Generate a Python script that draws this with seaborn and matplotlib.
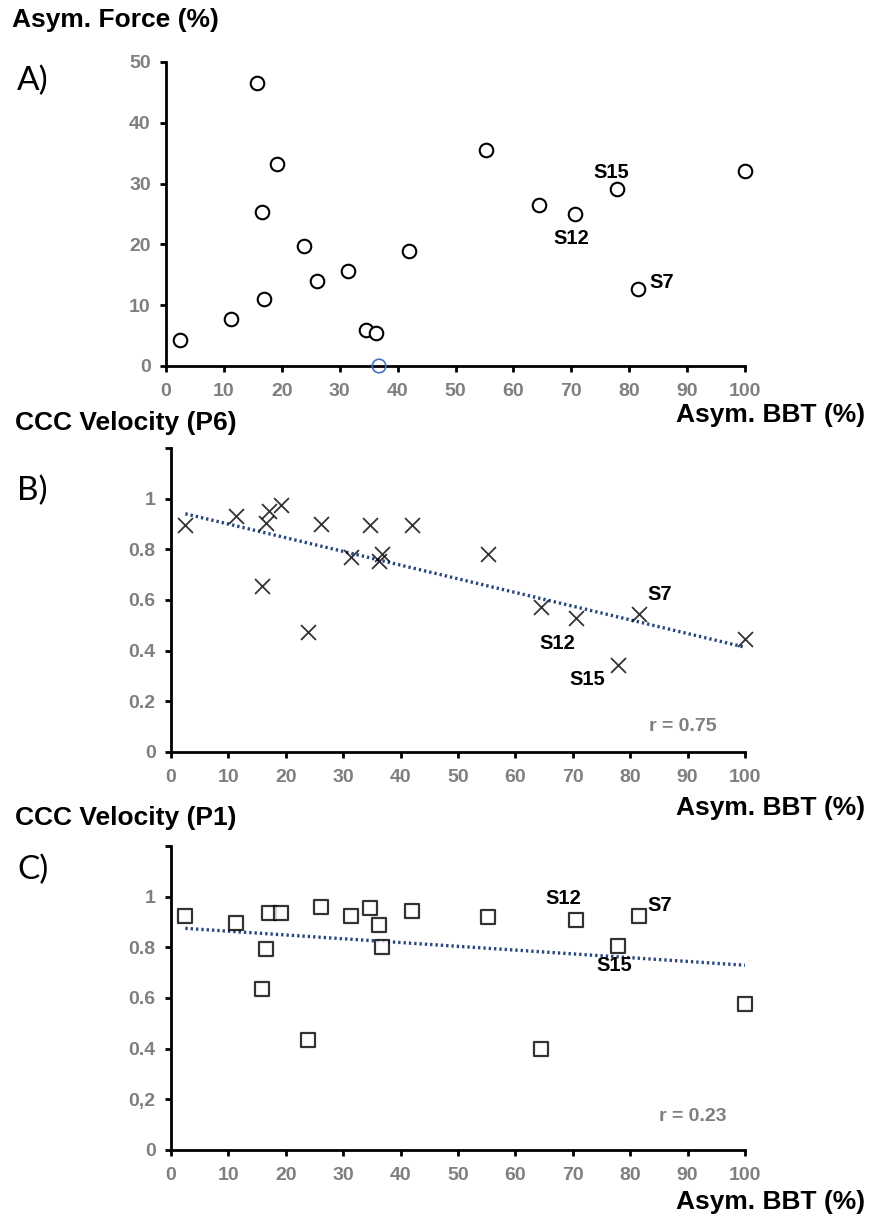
import matplotlib
matplotlib.use("Agg")
import matplotlib.pyplot as plt
import seaborn as sns
import numpy as np
import pandas as pd

# ---------------- data ----------------
bbt_asym = [2.5, 11.3, 15.8, 16.5, 17.0, 19.1, 23.8, 26.1, 31.4, 34.6,
            36.3, 36.8, 42.0, 55.2, 64.4, 70.6, 77.9, 81.6, 100.0]
force_asym = [4.2, 7.7, 46.5, 25.3, 11.1, 33.3, 19.8, 14.0, 15.6, 6.0,
              5.5, 0.0, 18.9, 35.6, 26.4, 25.0, 29.1, 12.7, 32.1]
force_flag = [0, 0, 0, 0, 0, 0, 0, 0, 0, 0, 0, 1, 0, 0, 0, 0, 0, 0, 0]
ccc_p6 = [0.897, 0.930, 0.657, 0.904, 0.953, 0.976, 0.472, 0.900, 0.768, 0.895,
          0.755, 0.782, 0.897, 0.783, 0.572, 0.529, 0.342, 0.543, 0.446]
ccc_p1 = [0.922, 0.896, 0.636, 0.794, 0.934, 0.937, 0.436, 0.959, 0.922, 0.955,
          0.887, 0.800, 0.945, 0.918, 0.400, 0.908, 0.805, 0.924, 0.578]

x_ticks = [0, 10, 20, 30, 40, 50, 60, 70, 80, 90, 100]
a_yticks = [0, 10, 20, 30, 40, 50]
bc_yticks = [0, 0.2, 0.4, 0.6, 0.8, 1.0, 1.2]
b_ylabels = ["0", "0.2", "0.4", "0.6", "0.8", "1", ""]
c_ylabels = ["0", "0,2", "0.4", "0.6", "0.8", "1", ""]

labels_a = {"S15": (76.9, 31.9), "S12": (70.0, 21.0), "S7": (85.7, 13.7)}
labels_b = {"S7": (85.2, 0.621), "S12": (67.3, 0.43), "S15": (72.6, 0.285)}
labels_c = {"S12": (68.4, 0.994), "S7": (85.2, 0.964), "S15": (77.2, 0.727)}
r_b = "r = 0.75"
r_c = "r = 0.23"

# ---------------- style ----------------
sns.set_theme(style="white")
plt.rcParams["font.family"] = ["Liberation Sans", "DejaVu Sans"]

W, H = 871, 1220
fig = plt.figure(figsize=(W / 100, H / 100), dpi=100)

def ax_at(l, r, t, b):
    return fig.add_axes([l / W, 1 - b / H, (r - l) / W, (b - t) / H])

grey = "#7f7f7f"
line_col = "#27467f"
dot_style = (0, (0.7, 0.9))

def style_axes(ax, ylim, yticks, ylabels):
    ax.set_xlim(0, 100)
    ax.set_ylim(*ylim)
    ax.set_xticks(x_ticks)
    ax.set_xticklabels([str(v) for v in x_ticks])
    ax.set_yticks(yticks)
    ax.set_yticklabels(ylabels)
    for s in ["top", "right"]:
        ax.spines[s].set_visible(False)
    for s in ["left", "bottom"]:
        ax.spines[s].set_color("black")
        ax.spines[s].set_linewidth(2.0)
    ax.tick_params(axis="both", direction="out", length=4, width=2.0,
                   color="black", labelsize=14, labelcolor=grey,
                   left=True, bottom=True)
    ax.tick_params(axis="x", pad=8)
    ax.tick_params(axis="y", pad=7)
    for lab in ax.get_xticklabels() + ax.get_yticklabels():
        lab.set_fontweight("bold")
    ax.set_xlabel("")
    ax.set_ylabel("")
    ax.grid(False)
    ax.set_facecolor("white")
    for coll in ax.collections:
        coll.set_clip_on(False)

# ---------------- panel A ----------------
axA = ax_at(166, 745, 62, 366)
dfA = pd.DataFrame({"bbt": bbt_asym, "force": force_asym, "flag": force_flag})
sns.scatterplot(data=dfA[dfA.flag == 0], x="bbt", y="force", ax=axA,
                marker="o", s=95, facecolor="white", edgecolor="black",
                linewidth=1.5, zorder=3)
sns.scatterplot(data=dfA[dfA.flag == 1], x="bbt", y="force", ax=axA,
                marker="o", s=95, facecolor="none", edgecolor="#4472c4",
                linewidth=1.2, zorder=4)
style_axes(axA, (0, 50), a_yticks, [str(v) for v in a_yticks])
for k, (x, y) in labels_a.items():
    axA.text(x, y, k, ha="center", va="center", fontsize=14.5, fontweight="bold", color="black")

# ---------------- panel B ----------------
axB = ax_at(171, 745, 448, 752)
dfB = pd.DataFrame({"bbt": bbt_asym, "ccc": ccc_p6})
sns.regplot(data=dfB, x="bbt", y="ccc", ax=axB, ci=None, marker="x",
            scatter_kws=dict(s=115, color="black", linewidths=1.3, zorder=3),
            line_kws=dict(color=line_col, linestyle=dot_style, linewidth=2.4, zorder=2))
style_axes(axB, (0, 1.2), bc_yticks, b_ylabels)
for k, (x, y) in labels_b.items():
    axB.text(x, y, k, ha="center", va="center", fontsize=14.5, fontweight="bold", color="black")
axB.text(95.1, 0.10, r_b, ha="right", va="center", fontsize=14, fontweight="bold", color=grey)

# ---------------- panel C ----------------
axC = ax_at(171, 745, 846, 1150)
dfC = pd.DataFrame({"bbt": bbt_asym, "ccc": ccc_p1})
sns.regplot(data=dfC, x="bbt", y="ccc", ax=axC, ci=None, marker="s",
            scatter_kws=dict(s=100, facecolor="white", edgecolor="black", linewidths=1.6, zorder=3),
            line_kws=dict(color=line_col, linestyle=dot_style, linewidth=2.4, zorder=2))
style_axes(axC, (0, 1.2), bc_yticks, c_ylabels)
for k, (x, y) in labels_c.items():
    axC.text(x, y, k, ha="center", va="center", fontsize=14.5, fontweight="bold", color="black")
axC.text(96.7, 0.134, r_c, ha="right", va="center", fontsize=14, fontweight="bold", color=grey)

# ---------------- titles / labels ----------------
def ftext(x, y, s, **kw):
    fig.text(x / W, 1 - y / H, s, **kw)

ftext(12, 20, "Asym. Force (%)", ha="left", va="center", fontsize=19, fontweight="bold", color="black")
ftext(15, 423, "CCC Velocity (P6)", ha="left", va="center", fontsize=19, fontweight="bold", color="black")
ftext(15, 818, "CCC Velocity (P1)", ha="left", va="center", fontsize=19, fontweight="bold", color="black")

for y in (415, 808, 1202):
    ftext(865, y, "Asym. BBT (%)", ha="right", va="center", fontsize=19, fontweight="bold", color="black")

for (y, s) in ((81, "A)"), (491, "B)"), (870, "C)")):
    fig.text(17 / W, 1 - y / H, s, ha="left", va="center", fontsize=24,
             color="black", family=["Lato", "DejaVu Sans"])

fig.savefig("out.png", dpi=100, facecolor="white")
